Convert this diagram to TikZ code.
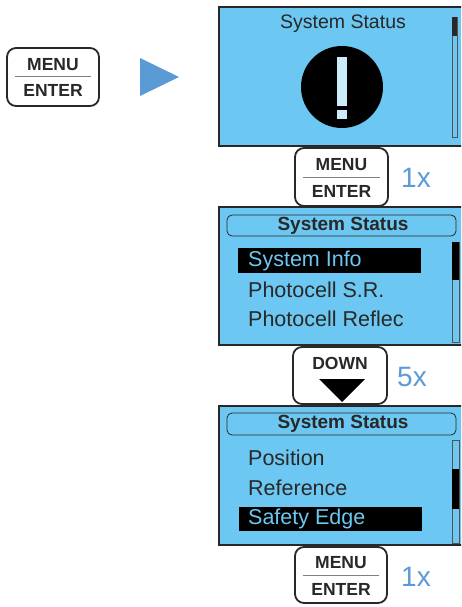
\documentclass[tikz,border=0pt]{standalone}
\usepackage{fontspec}
\setmainfont{Liberation Sans}
\definecolor{lcd}{RGB}{108,200,242}
\definecolor{lcdpale}{RGB}{205,236,250}
\definecolor{ink}{RGB}{40,40,40}
\definecolor{hintblue}{RGB}{91,155,213}
\tikzset{
  screen/.style={draw=ink, line width=2.2pt, fill=lcd},
  keybox/.style={draw=ink, line width=1.8pt, fill=white, rounded corners=9pt},
  keylabel/.style={text=ink, font=\fontsize{17.5}{18}\selectfont\bfseries, inner sep=0pt},
  hint/.style={text=hintblue, font=\fontsize{28}{30}\selectfont, inner sep=0pt, anchor=west},
  title/.style={text=ink, inner sep=0pt},
  item/.style={text=ink, font=\fontsize{21.5}{22}\selectfont, inner sep=0pt, anchor=west},
  itemsel/.style={item, text=lcd},
  header/.style={draw=ink, line width=0.8pt, rounded corners=5pt},
  scrollbar/.style={draw=ink!80, line width=0.8pt},
}
\begin{document}
\begin{tikzpicture}[x=1pt, y=-1pt]
      \useasboundingbox (0, 0) rectangle (461, 607);
      \clip (0, 0) rectangle (461, 607);

      % key pressed first
      \begin{scope}[shift={(7, 48)}]
        \draw [keybox] (0, 0) rectangle (92, 58);
        \node [keylabel] (menuA) at (46, 16.5) {MENU};
        \draw [gray, line width=1pt] (8, 29) -- (84, 29);
        \node [keylabel] (enterA) at (46, 42.5) {ENTER};
      \end{scope}
      \fill [hintblue] (140, 58) -- (179, 77) -- (140, 96) -- cycle;

      % screen 1
      \draw [screen] (219, 7) rectangle (475, 146);
      \node [title, font=\fontsize{19.5}{20}\selectfont] (titleA) at (343, 24) {System Status};
      \fill [black] (342, 87) circle (41);
      \fill [lcdpale] (337, 57) rectangle (347, 106);
      \fill [lcdpale] (337, 110) rectangle (347, 119);
      \draw [scrollbar] (452, 17) rectangle (457, 137);
      \fill [ink] (452, 17) rectangle (457, 36);

      % key 1x
      \begin{scope}[shift={(295, 148)}]
        \draw [keybox] (0, 0) rectangle (93, 58);
        \node [keylabel] (menuB) at (46.5, 17) {MENU};
        \draw [gray, line width=1pt] (8, 29.5) -- (85, 29.5);
        \node [keylabel] (enterB) at (46.5, 43.5) {ENTER};
      \end{scope}
      \node [hint] (hintB) at (401, 178) {1x};

      % screen 2
      \draw [screen] (219, 207) rectangle (475, 345);
      \draw [header] (227, 215) rectangle (456, 236);
      \node [title, font=\fontsize{19}{20}\selectfont\bfseries] (titleB) at (343, 225.5) {System Status};
      \fill [black] (238, 248) rectangle (421, 273);
      \node [itemsel] (infoB) at (248, 260.5) {System Info};
      \node [item] (srB) at (248, 290) {Photocell S.R.};
      \node [item] (reflB) at (248, 319) {Photocell Reflec};
      \draw [scrollbar] (452, 242) rectangle (459, 342);
      \fill [black] (452, 242) rectangle (459, 280);

      % key 5x
      \begin{scope}[shift={(293, 347)}]
        \draw [keybox] (0, 0) rectangle (94, 57);
        \node [keylabel] (downC) at (47, 16) {DOWN};
        \fill [black] (26, 32) -- (72, 32) -- (49, 55) -- cycle;
      \end{scope}
      \node [hint] (hintC) at (397, 377) {5x};

      % screen 3
      \draw [screen] (219, 406) rectangle (475, 545);
      \draw [header] (227, 413) rectangle (456, 435);
      \node [title, font=\fontsize{19}{20}\selectfont\bfseries] (titleC) at (343, 424) {System Status};
      \node [item] (posC) at (248, 458) {Position};
      \node [item] (refC) at (248, 488) {Reference};
      \fill [black] (239, 507) rectangle (422, 531);
      \node [itemsel] (edgeC) at (248, 519) {Safety Edge};
      \draw [scrollbar] (452, 440) rectangle (459, 543);
      \fill [black] (452, 469) rectangle (459, 509);

      % key 1x
      \begin{scope}[shift={(295, 547)}]
        \draw [keybox] (0, 0) rectangle (92, 56);
        \node [keylabel] (menuD) at (46, 16) {MENU};
        \draw [gray, line width=1pt] (8, 28.5) -- (84, 28.5);
        \node [keylabel] (enterD) at (46, 42) {ENTER};
      \end{scope}
      \node [hint] (hintD) at (401, 577) {1x};
    \end{tikzpicture}
\end{document}
